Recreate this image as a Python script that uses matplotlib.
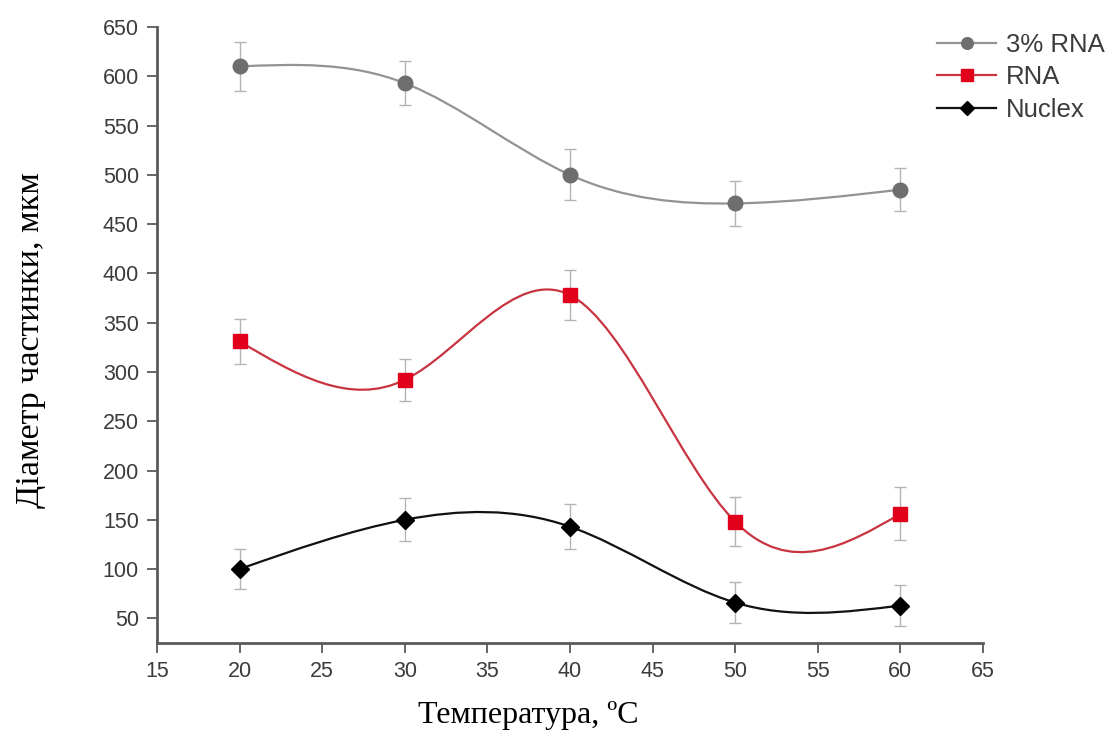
import matplotlib
matplotlib.use('Agg')
import matplotlib.pyplot as plt
import numpy as np
from matplotlib.path import Path
from matplotlib.patches import PathPatch
from matplotlib.lines import Line2D

temps = [20, 30, 40, 50, 60]

rna3 = [610, 593, 500, 471, 485]
rna3_err = [25, 22, 26, 23, 22]

rna = [331, 292, 378, 148, 156]
rna_err = [23, 21, 25, 25, 27]

nuclex = [100, 150, 143, 66, 63]
nuclex_err = [20, 22, 23, 21, 21]

labels = ['3% RNA', 'RNA', 'Nuclex']


def spline_path(x, y):
    # natural cubic spline through the points, written as bezier segments
    x = np.asarray(x, float)
    y = np.asarray(y, float)
    n = len(x)
    h = np.diff(x)
    A = np.zeros((n, n))
    r = np.zeros(n)
    A[0, 0] = A[-1, -1] = 1
    for i in range(1, n - 1):
        A[i, i - 1] = h[i - 1]
        A[i, i] = 2 * (h[i - 1] + h[i])
        A[i, i + 1] = h[i]
        r[i] = 6 * ((y[i + 1] - y[i]) / h[i] - (y[i] - y[i - 1]) / h[i - 1])
    M = np.linalg.solve(A, r)
    m = np.zeros(n)
    for i in range(n - 1):
        m[i] = (y[i + 1] - y[i]) / h[i] - h[i] * (2 * M[i] + M[i + 1]) / 6
    m[-1] = (y[-1] - y[-2]) / h[-1] + h[-1] * (M[-2] + 2 * M[-1]) / 6
    verts = [(x[0], y[0])]
    codes = [Path.MOVETO]
    for i in range(n - 1):
        d = h[i] / 3
        verts += [(x[i] + d, y[i] + m[i] * d),
                  (x[i + 1] - d, y[i + 1] - m[i + 1] * d),
                  (x[i + 1], y[i + 1])]
        codes += [Path.CURVE4] * 3
    return Path(verts, codes)


fig = plt.figure(figsize=(11.1, 7.33), dpi=100)
ax = fig.add_axes([157 / 1110, 1 - 643 / 733, (983 - 157) / 1110, (643 - 27) / 733])

series = [
    (rna3, rna3_err, '#939393', '#6e6e6e', 'o', 10.5),
    (rna, rna_err, '#c8343f', '#e0001b', 's', 10),
    (nuclex, nuclex_err, '#111111', '#000000', 'D', 9),
]

handles = []
for (vals, err, lc, mc, mk, ms), lab in zip(series, labels):
    ax.errorbar(temps, vals, yerr=err, fmt='none', ecolor='#b4b4b4',
                elinewidth=1, capsize=4, capthick=1, zorder=1)
    ax.add_patch(PathPatch(spline_path(temps, vals), fill=False,
                           edgecolor=lc, lw=1.6, zorder=2))
    ax.plot(temps, vals, linestyle='none', marker=mk, ms=ms,
            color=mc, zorder=3)
    handles.append(Line2D([], [], color=lc, lw=1.6, marker=mk,
                          ms=ms * 0.8, markerfacecolor=mc, markeredgecolor=mc))

ax.set_xlim(15, 65)
ax.set_ylim(25, 650)
ax.set_xticks(np.arange(15, 66, 5))
ax.set_yticks(np.arange(50, 651, 50))

for s in ['top', 'right']:
    ax.spines[s].set_visible(False)
for s in ['left', 'bottom']:
    ax.spines[s].set_color('#5a5a5a')
    ax.spines[s].set_linewidth(2)

ax.tick_params(direction='out', length=7, width=1.3, color='#5a5a5a',
               labelcolor='#3c3c3c', labelsize=15.5, pad=6)
for t in ax.get_xticklabels() + ax.get_yticklabels():
    t.set_family('Liberation Sans')

leg = fig.legend(handles, labels, loc='upper left',
                 bbox_to_anchor=(937 / 1110, 1 - 33 / 733),
                 frameon=False, borderpad=0, borderaxespad=0,
                 handlelength=2.3, handletextpad=0.4, labelspacing=0.33,
                 prop={'family': 'Liberation Sans', 'size': 18.5})
for t in leg.get_texts():
    t.set_color('#3c3c3c')

fig.text(528 / 1110, 1 - 716 / 733, 'Температура, ºC', ha='center', va='center',
         family='Liberation Serif', fontsize=23)
fig.text(31 / 1110, 1 - 340 / 733, 'Діаметр частинки, мкм', ha='center', va='center',
         rotation=90, family='Liberation Serif', fontsize=24.5)

fig.savefig('out.png', dpi=100)
